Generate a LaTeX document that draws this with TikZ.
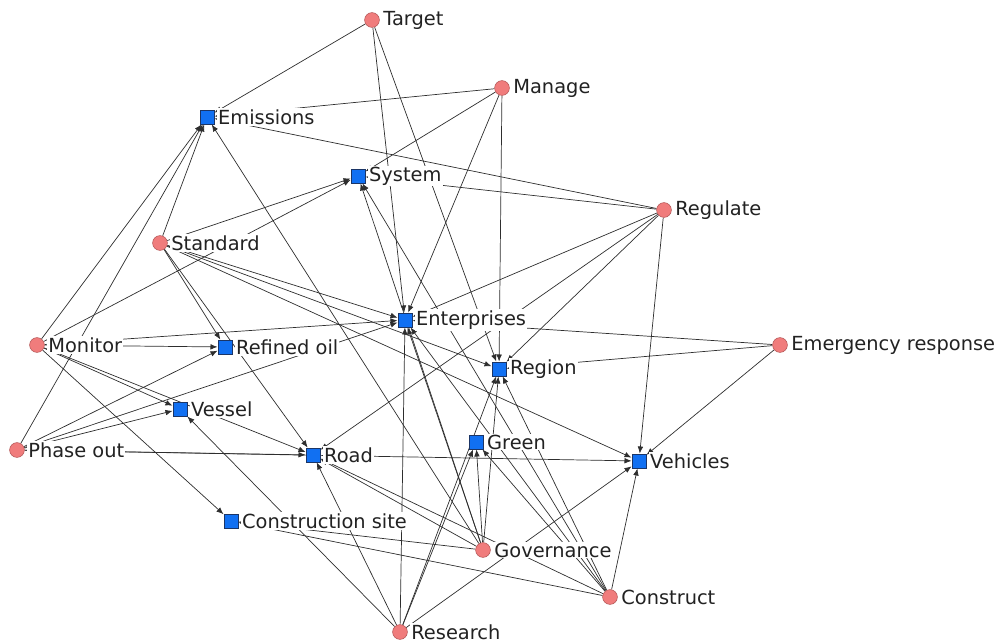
\documentclass[tikz,border=0pt]{standalone}
\usepackage{fontspec}
\setmainfont{DejaVu Sans}
\usepackage{xcolor}
\usepackage{tikz}
\usetikzlibrary{arrows.meta, backgrounds}
\definecolor{verb}{HTML}{F07C7C}
\definecolor{verbline}{HTML}{B35858}
\definecolor{noun}{HTML}{1170F2}
\definecolor{nounline}{HTML}{1B3566}
\definecolor{link}{HTML}{2E2E2E}
\definecolor{ink}{HTML}{222222}

\begin{document}
\begin{tikzpicture}[
  x=0.025cm, y=-0.025cm,
  font=\fontsize{13.8}{16}\selectfont, text=ink,
  verb/.style={circle, draw=verbline, fill=verb, line width=0.4pt, minimum size=0.37cm, inner sep=0pt},
  noun/.style={rectangle, draw=nounline, fill=noun, line width=0.4pt, minimum size=0.36cm, inner sep=0pt},
  every label/.style={fill=white, inner sep=0.8pt},
  label distance=1.6pt,
  tolink/.style={draw=link, line width=0.5pt, -{Latex[length=5pt, width=4pt]}}
]
  \useasboundingbox (0,0) rectangle (1004,643);
  % verbs
  \foreach \nm/\x/\y/\txt in {tgt/372/20/Target, mng/502/88/Manage, reg/664/210/Regulate,
      std/160/243/Standard, mon/37/345/Monitor, emr/780/345/Emergency response,
      pho/17/450/Phase out, gov/483/550/Governance, cons/610/597/Construct, res/400/632/Research}
    \node[verb, label=right:\txt] (\nm) at (\x,\y) {};
  % nouns
  \foreach \nm/\x/\y/\txt in {emis/207/117/Emissions, sys/358/176/System, ent/405/320/Enterprises,
      oil/225/347/Refined oil, rgn/499/369/Region, ves/180/409/Vessel, road/313/455/Road,
      grn/476/442/Green, veh/639/461/Vehicles, csite/231/521/Construction site}
    \node[noun, label=right:\txt] (\nm) at (\x,\y) {};
  % links, verb -> noun
  \begin{scope}[on background layer]
    \foreach \s/\t in {tgt/emis, tgt/ent, tgt/rgn,
        mng/emis, mng/sys, mng/ent, mng/rgn,
        reg/emis, reg/sys, reg/ent, reg/road, reg/rgn, reg/veh,
        emr/ent, emr/rgn, emr/veh,
        std/emis, std/sys, std/oil, std/road, std/ent, std/rgn, std/veh,
        mon/emis, mon/sys, mon/ent, mon/oil, mon/ves, mon/road, mon/csite,
        pho/emis, pho/oil, pho/ent, pho/ves, pho/road, pho/veh,
        res/ves, res/road, res/ent, res/grn, res/rgn, res/veh,
        gov/emis, gov/sys, gov/ent, gov/road, gov/csite, gov/grn, gov/rgn,
        cons/sys, cons/ent, cons/rgn, cons/grn, cons/road, cons/csite, cons/veh}
      \draw[tolink] (\s) -- (\t);
  \end{scope}
\end{tikzpicture}
\end{document}
